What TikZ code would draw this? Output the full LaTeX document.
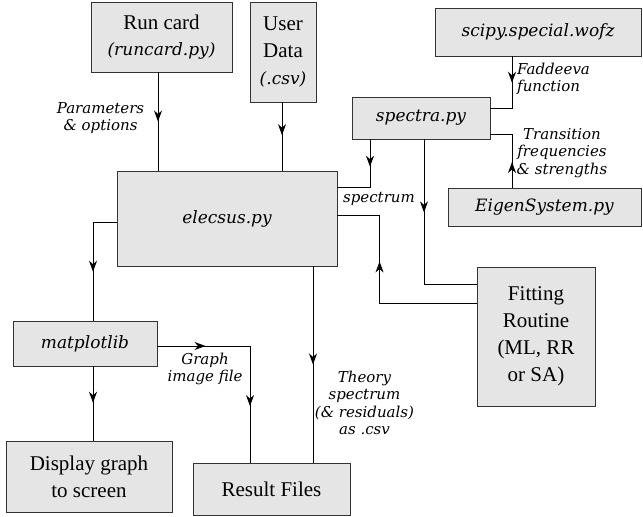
\documentclass[tikz,border=0pt]{standalone}
\usepackage{fontspec}
\setmainfont{Liberation Serif}
\newfontfamily\itf{DejaVu Serif}
\usetikzlibrary{arrows.meta,decorations.markings}

\begin{document}
\begin{tikzpicture}[x=1pt,y=-1pt]

\tikzstyle{box}=[rectangle, draw=black!80, fill=black!10, line width=0.9pt, inner sep=0pt, align=center, font=\fontsize{21}{27}\selectfont]
\tikzstyle{pybox}=[box, font=\fontsize{17}{21}\selectfont\itf\itshape]
\tikzstyle{lbl}=[align=center, inner sep=0pt, font=\fontsize{15}{17.5}\selectfont\itf\itshape]
\tikzstyle{arrow}=[line width=0.9pt, postaction={decorate}]
\tikzset{midtip/.style={decoration={markings, mark=at position #1 with {\arrow{Stealth[length=11pt,width=8pt,inset=3.5pt]}}}}}

\useasboundingbox (0,0) rectangle (643,517);

\node (R) [box, minimum width=141pt, minimum height=70pt] at (161.5,37) {Run card\\[-1pt]{\itf\itshape\fontsize{17}{27}\selectfont (runcard.py)}};
\node (U) [box, minimum width=66pt, minimum height=100pt] at (283,52) {User\\Data\\{\itf\itshape\fontsize{17}{27}\selectfont (.csv)}};
\node (E) [pybox, minimum width=220pt, minimum height=95pt] at (227,218.5) {elecsus.py};
\node (S) [pybox, minimum width=206pt, minimum height=48pt] at (538,32) {scipy.special.wofz};
\node (P) [pybox, minimum width=138pt, minimum height=42pt] at (421,118) {spectra.py};
\node (G) [pybox, minimum width=193pt, minimum height=38pt] at (544.5,207) {EigenSystem.py};
\node (F) [box, minimum width=118pt, minimum height=139pt] at (536,336.5) {Fitting\\Routine\\(ML, RR\\or SA)};
\node (M) [pybox, minimum width=144pt, minimum height=45pt] at (85,343.5) {matplotlib};
\node (D) [box, minimum width=166pt, minimum height=71pt] at (89,476.5) {Display graph\\to screen};
\node (O) [box, minimum width=157pt, minimum height=52pt] at (271.5,489) {Result Files};

% inputs
\draw [arrow, midtip=0.5] ([xshift=-3.5pt]R.south) -- ([xshift=-3.5pt]R.south |- E.north);
\draw [arrow, midtip=0.48] ([xshift=-1pt]U.south) -- ([xshift=-1pt]U.south |- E.north);
\node [lbl] at (100.5,118) {Parameters\\\& options};

% spectra.py and its helpers
\draw [arrow, midtip=0.36] ([xshift=-26pt]S.south) |- ([yshift=10pt]P.east);
\node [lbl, align=left, anchor=west] at (517,79) {Faddeeva\\function};
\draw [arrow, midtip=0.34] ([xshift=-32.5pt]G.north) |- ([yshift=-16pt]P.east);
\node [lbl] at (562,153) {Transition\\frequencies\\\& strengths};
\draw [arrow, midtip=0.34] ([xshift=-51pt]P.south) |- ([yshift=31.5pt]E.east);
\node [lbl] at (379,199) {spectrum};

% fitting loop
\draw [arrow, midtip=0.37] ([xshift=3pt]P.south) |- ([yshift=52.5pt]F.west);
\draw [arrow, midtip=0.61] ([yshift=33.5pt]F.west) -- ++(-97,0) |- ([yshift=3.5pt]E.east);

% outputs
\draw [arrow, midtip=0.6] ([yshift=-3.5pt]E.west) -| ([xshift=8pt]M.north);
\draw [arrow, midtip=0.49] ([xshift=8pt]M.south) -- ([xshift=8pt]M.south |- D.north);
\draw [arrow, decoration={markings, mark=at position 0.23 with {\arrow{Stealth[length=11pt,width=8pt,inset=3.5pt]}}, mark=at position 0.73 with {\arrow{Stealth[length=11pt,width=8pt,inset=3.5pt]}}}] ([yshift=-2.5pt]M.east) -| ([xshift=-21.5pt]O.north);
\node [lbl] at (205,369) {Graph\\image file};
\draw [arrow, midtip=0.5] ([xshift=86pt]E.south) -- ([xshift=86pt]E.south |- O.north);
\node [lbl] at (364.5,403) {Theory\\spectrum\\(\& residuals)\\as .csv};

\end{tikzpicture}
\end{document}
